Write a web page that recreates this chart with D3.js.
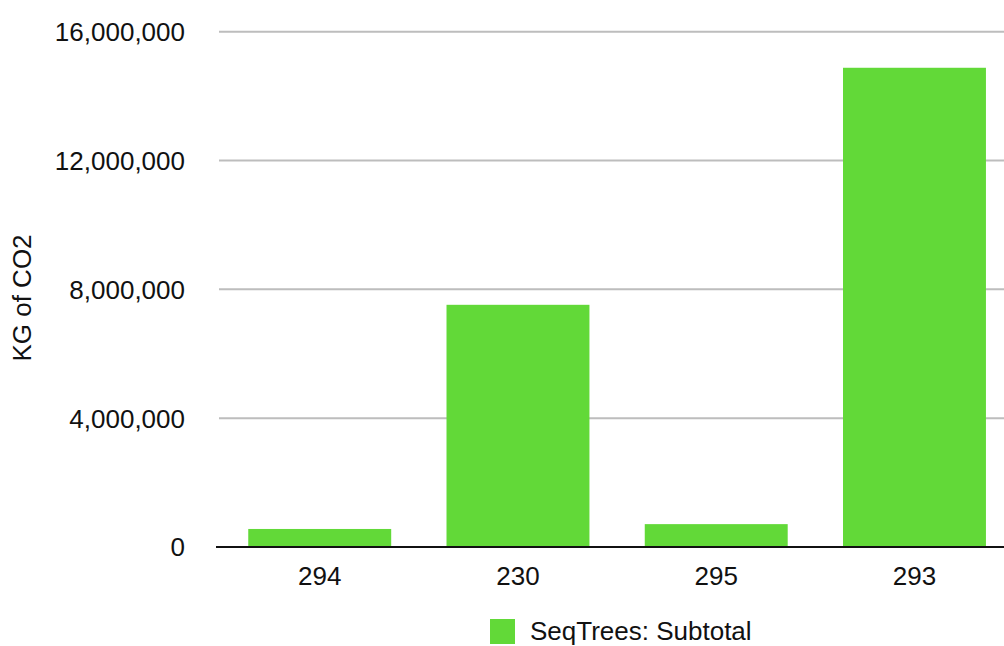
<!DOCTYPE html>
<html>
<head>
<meta charset="utf-8">
<script src="https://cdn.jsdelivr.net/npm/d3@7"></script>
<style>
  html, body { margin: 0; padding: 0; background: #fff; }
  svg { display: block; font-family: "Liberation Sans", Arial, sans-serif; }
</style>
</head>
<body>
<svg id="chart" width="1004" height="646"></svg>
<script>
// Sequestration subtotals per site
const categories = ["294", "230", "295", "293"];
const subtotals = [560000, 7520000, 710000, 14880000];
const yTicks = [0, 4000000, 8000000, 12000000, 16000000];
const seriesName = "SeqTrees: Subtotal";
const yTitle = "KG of CO2";

const svg = d3.select("#chart");
const barColor = "#62d938";
const fontSize = 26;

const y = d3.scaleLinear().domain([0, 16000000]).range([547, 31.7]);
const x = d3.scaleBand().domain(categories).range([220.5, 1013.7])
  .paddingInner(0.279).paddingOuter(0.14);

// horizontal gridlines
svg.append("g").selectAll("line")
  .data(yTicks.filter(d => d > 0))
  .join("line")
  .attr("x1", 219).attr("x2", 1004)
  .attr("y1", d => y(d)).attr("y2", d => y(d))
  .attr("stroke", "#bdbdbd").attr("stroke-width", 2);

// y tick labels
svg.append("g").selectAll("text")
  .data(yTicks)
  .join("text")
  .attr("x", 185).attr("y", d => y(d))
  .attr("dy", "0.36em")
  .attr("text-anchor", "end")
  .attr("font-size", fontSize)
  .attr("fill", "#111")
  .text(d => d3.format(",")(d));

// bars
svg.append("g").selectAll("rect")
  .data(categories.map((c, i) => ({ c, v: subtotals[i] })))
  .join("rect")
  .attr("x", d => x(d.c))
  .attr("width", x.bandwidth())
  .attr("y", d => y(d.v))
  .attr("height", d => y(0) - y(d.v))
  .attr("fill", barColor);

// baseline
svg.append("line")
  .attr("x1", 216).attr("x2", 1004)
  .attr("y1", y(0)).attr("y2", y(0))
  .attr("stroke", "#111").attr("stroke-width", 2);

// x category labels
svg.append("g").selectAll("text")
  .data(categories)
  .join("text")
  .attr("x", d => x(d) + x.bandwidth() / 2)
  .attr("y", 585)
  .attr("text-anchor", "middle")
  .attr("font-size", fontSize)
  .attr("fill", "#111")
  .text(d => d);

// y axis title
svg.append("text")
  .attr("transform", "translate(31,298) rotate(-90)")
  .attr("text-anchor", "middle")
  .attr("font-size", fontSize)
  .attr("fill", "#111")
  .text(yTitle);

// legend
const legend = svg.append("g");
legend.append("rect")
  .attr("x", 490).attr("y", 619).attr("width", 25).attr("height", 25)
  .attr("fill", barColor);
legend.append("text")
  .attr("x", 530).attr("y", 640)
  .attr("font-size", fontSize)
  .attr("fill", "#111")
  .text(seriesName);
</script>
</body>
</html>
